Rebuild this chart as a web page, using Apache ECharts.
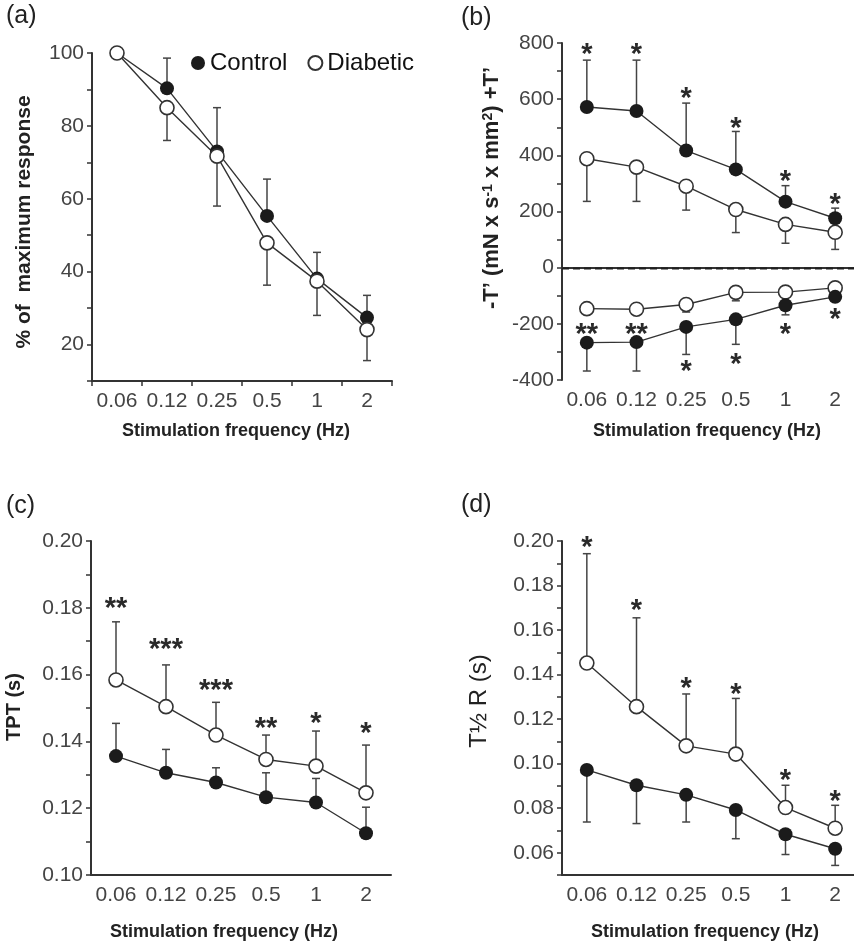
<!DOCTYPE html>
<html lang="en">
<head>
  <meta charset="UTF-8">
  <title>Stimulation frequency panels</title>
  <script src="https://cdn.jsdelivr.net/npm/echarts@6/dist/echarts.min.js"></script>
  <style>
    body { margin: 0; padding: 0; background: #fff; }
  </style>
</head>
<body>
  <div id="chart" style="width: 854px; height: 943px;"></div>
  <script>
    // categories shared by every panel
    var freqLabels = ['0.06', '0.12', '0.25', '0.5', '1', '2'];

    // (a) % of maximum response
    var aControl = [100, 90.3, 73, 55.3, 38.1, 27.4];
    var aControlErr = [null, 98.6, 85, 65.4, 45.3, 33.5];
    var aDiabetic = [100, 85, 71.7, 47.9, 37.4, 24.1];
    var aDiabeticErr = [null, 76, 58, 36.3, 28, 15.6];

    // (b) -T' / +T'
    var bControlPos = [572, 558, 417, 350, 235, 176];
    var bControlPosErr = [739, 739, 586, 485, 292, 212];
    var bDiabeticPos = [388, 358, 290, 207, 154, 126];
    var bDiabeticPosErr = [236, 236, 205, 125, 87, 65];
    var bDiabeticNeg = [-146, -148, -131, -88, -87, -72];
    var bDiabeticNegErr = [-166, -165, -158, -118, -100, -80];
    var bControlNeg = [-267, -265, -211, -184, -134, -104];
    var bControlNegErr = [-368, -368, -309, -273, -168, -115];
    var bStarsPos = ['*', '*', '*', '*', '*', '*'];
    var bStarsPosY = [778, 778, 623, 514, 327, 243];
    var bStarsNeg = ['**', '**', '*', '*', '*', '*'];
    var bStarsNegY = [-220, -220, -350, -324, -220, -166];
    var bZeroLine = 0;

    // (c) TPT (s)
    var cControl = [0.1356, 0.1306, 0.1277, 0.1233, 0.1217, 0.1125];
    var cControlErr = [0.1454, 0.1376, 0.1321, 0.1306, 0.1289, 0.1203];
    var cDiabetic = [0.1584, 0.1504, 0.1419, 0.1346, 0.1326, 0.1246];
    var cDiabeticErr = [0.1758, 0.1629, 0.1517, 0.1419, 0.1431, 0.1389];
    var cStars = ['**', '***', '***', '**', '*', '*'];
    var cStarsY = [0.1813, 0.1692, 0.1569, 0.1454, 0.1469, 0.1439];

    // (d) T1/2 R (s)
    var dControl = [0.0972, 0.0903, 0.0860, 0.0792, 0.0683, 0.0618];
    var dControlErr = [0.0738, 0.0731, 0.0738, 0.0663, 0.0592, 0.0543];
    var dDiabetic = [0.1452, 0.1256, 0.1080, 0.1043, 0.0803, 0.0710];
    var dDiabeticErr = [0.1943, 0.1655, 0.1313, 0.1293, 0.0903, 0.0813];
    var dStars = ['*', '*', '*', '*', '*', '*'];
    var dStarsY = [0.1996, 0.1713, 0.1361, 0.1335, 0.0950, 0.0855];

    var FONT = '"Liberation Sans", Arial, sans-serif';
    var INK = '#333';

    function xAxisOf(grid) {
      return {
        type: 'category', gridIndex: grid, data: freqLabels, position: 'bottom',
        axisLine: { lineStyle: { color: INK, width: 2 } },
        axisTick: { alignWithLabel: true, length: 5, lineStyle: { color: INK, width: 1.5 } },
        axisLabel: { interval: 0, margin: 10, fontSize: 21, color: '#444', fontFamily: FONT },
        splitLine: { show: false }
      };
    }

    function yAxisOf(grid, min, max, interval, fmt) {
      return {
        type: 'value', gridIndex: grid, min: min, max: max, interval: interval,
        axisLine: { show: true, lineStyle: { color: INK, width: 2 } },
        axisTick: { show: true, length: 5, lineStyle: { color: INK, width: 1.5 } },
        axisLabel: { margin: 8, fontSize: 21, color: '#444', fontFamily: FONT, formatter: fmt },
        splitLine: { show: false }
      };
    }

    function evenHundredth(v) {
      var k = Math.round(v * 100);
      return k % 2 === 0 ? (k / 100).toFixed(2) : '';
    }

    function lineSeries(name, xi, yi, data, filled) {
      return {
        name: name, type: 'line', xAxisIndex: xi, yAxisIndex: yi, data: data,
        symbol: 'circle', symbolSize: 14, z: 3,
        lineStyle: { color: INK, width: 1.4 },
        itemStyle: filled ? { color: '#1b1b1b' } : { color: '#fff', borderColor: INK, borderWidth: 1.6 },
        emphasis: { disabled: true }
      };
    }

    function errSeries(xi, yi, means, ends) {
      var data = [];
      means.forEach(function (m, i) {
        if (ends[i] != null) data.push([i, m, ends[i]]);
      });
      return {
        type: 'custom', xAxisIndex: xi, yAxisIndex: yi, z: 2, silent: true,
        data: data,
        renderItem: function (params, api) {
          var p0 = api.coord([api.value(0), api.value(1)]);
          var p1 = api.coord([api.value(0), api.value(2)]);
          var st = { stroke: '#444', lineWidth: 1.5 };
          return {
            type: 'group', children: [
              { type: 'line', shape: { x1: p0[0], y1: p0[1], x2: p1[0], y2: p1[1] }, style: st },
              { type: 'line', shape: { x1: p1[0] - 4, y1: p1[1], x2: p1[0] + 4, y2: p1[1] }, style: st }
            ]
          };
        }
      };
    }

    function starSeries(xi, yi, texts, ys) {
      return {
        type: 'custom', xAxisIndex: xi, yAxisIndex: yi, z: 4, silent: true,
        data: ys.map(function (y, i) { return [i, y]; }),
        renderItem: function (params, api) {
          var p = api.coord([api.value(0), api.value(1)]);
          return {
            type: 'text', x: p[0], y: p[1] + 6,
            style: {
              text: texts[params.dataIndex], fill: '#2a2a2a',
              fontSize: 29, fontWeight: 'bold', fontFamily: FONT,
              align: 'center', verticalAlign: 'middle'
            }
          };
        }
      };
    }

    // dashed reference line across the whole plot area of panel (b)
    function zeroLineSeries(xi, yi, value) {
      return {
        type: 'custom', xAxisIndex: xi, yAxisIndex: yi, z: 1, silent: true,
        data: [[0, value]],
        renderItem: function (params, api) {
          var cs = params.coordSys;
          var y = Math.round(api.coord([0, api.value(1)])[1]) + 0.5;
          return {
            type: 'line',
            shape: { x1: cs.x, y1: y, x2: cs.x + cs.width, y2: y },
            style: { stroke: '#1e1e1e', lineWidth: 2, lineDash: [7, 4], fill: null }
          };
        }
      };
    }

    function label(text, left, top) {
      return { type: 'text', left: left, top: top, style: { text: text, fontSize: 25, fontFamily: FONT, fill: '#222' } };
    }

    function xTitle(x, y) {
      return {
        type: 'text', x: x, y: y,
        style: { text: 'Stimulation frequency (Hz)', fontSize: 18, fontWeight: 'bold', fontFamily: FONT, fill: '#222', align: 'center', verticalAlign: 'middle' }
      };
    }

    function yTitle(x, y, style) {
      return { type: 'text', x: x, y: y, rotation: Math.PI / 2, style: style };
    }

    var chart = echarts.init(document.getElementById('chart'));

    var option = {
      animation: false,
      backgroundColor: '#fff',
      grid: [
        { left: 92, top: 53, width: 300, height: 328, outerBoundsMode: 'none' },
        { left: 562, top: 43, width: 298, height: 337, outerBoundsMode: 'none' },
        { left: 91, top: 541, width: 300, height: 334, outerBoundsMode: 'none' },
        { left: 562, top: 541, width: 298, height: 334, outerBoundsMode: 'none' }
      ],
      legend: {
        data: ['Control', 'Diabetic'], left: 186, top: 46, icon: 'circle',
        itemWidth: 14, itemHeight: 14, itemGap: 20, selectedMode: false,
        textStyle: { fontSize: 24, color: '#111', fontFamily: FONT }
      },
      xAxis: [
        xAxisOf(0),
        // boundary ticks between categories in panel (a)
        {
          type: 'category', gridIndex: 0, data: freqLabels, position: 'bottom',
          axisLine: { show: false }, axisLabel: { show: false },
          axisTick: { show: true, length: 5, lineStyle: { color: INK, width: 1.5 } }
        },
        xAxisOf(1),
        xAxisOf(2),
        xAxisOf(3)
      ],
      yAxis: [
        yAxisOf(0, 10, 100, 10, function (v) { return v % 20 === 0 ? v : ''; }),
        yAxisOf(1, -400, 800, 100, function (v) { return v % 200 === 0 ? v : ''; }),
        yAxisOf(2, 0.10, 0.20, 0.01, evenHundredth),
        yAxisOf(3, 0.05, 0.20, 0.01, evenHundredth)
      ],
      series: [
        errSeries(0, 0, aControl, aControlErr),
        errSeries(0, 0, aDiabetic, aDiabeticErr),
        lineSeries('Control', 0, 0, aControl, true),
        lineSeries('Diabetic', 0, 0, aDiabetic, false),

        zeroLineSeries(2, 1, bZeroLine),
        errSeries(2, 1, bControlPos, bControlPosErr),
        errSeries(2, 1, bDiabeticPos, bDiabeticPosErr),
        errSeries(2, 1, bDiabeticNeg, bDiabeticNegErr),
        errSeries(2, 1, bControlNeg, bControlNegErr),
        lineSeries('Control', 2, 1, bControlPos, true),
        lineSeries('Diabetic', 2, 1, bDiabeticPos, false),
        lineSeries('Diabetic', 2, 1, bDiabeticNeg, false),
        lineSeries('Control', 2, 1, bControlNeg, true),
        starSeries(2, 1, bStarsPos, bStarsPosY),
        starSeries(2, 1, bStarsNeg, bStarsNegY),

        errSeries(3, 2, cControl, cControlErr),
        errSeries(3, 2, cDiabetic, cDiabeticErr),
        lineSeries('Control', 3, 2, cControl, true),
        lineSeries('Diabetic', 3, 2, cDiabetic, false),
        starSeries(3, 2, cStars, cStarsY),

        errSeries(4, 3, dControl, dControlErr),
        errSeries(4, 3, dDiabetic, dDiabeticErr),
        lineSeries('Control', 4, 3, dControl, true),
        lineSeries('Diabetic', 4, 3, dDiabetic, false),
        starSeries(4, 3, dStars, dStarsY)
      ],
      graphic: [
        label('(a)', 6, 4),
        label('(b)', 461, 6),
        label('(c)', 6, 494),
        label('(d)', 461, 493),
        xTitle(236, 431),
        xTitle(707, 431),
        xTitle(224, 932),
        xTitle(705, 932),
        yTitle(24, 222, {
          text: '% of  maximum response', fontSize: 21, fontWeight: 'bold', fontFamily: FONT,
          fill: '#222', align: 'center', verticalAlign: 'middle'
        }),
        yTitle(492, 188, {
          text: '{b|-T’ (mN x s}{s|-1}{b| x mm}{s|2}{b|) +T’}',
          align: 'center', verticalAlign: 'middle',
          rich: {
            b: { fontSize: 22, fontWeight: 'bold', fontFamily: FONT, fill: '#222', verticalAlign: 'bottom' },
            s: { fontSize: 14, fontWeight: 'bold', fontFamily: FONT, fill: '#222', verticalAlign: 'top' }
          }
        }),
        yTitle(14, 707, {
          text: 'TPT (s)', fontSize: 20, fontWeight: 'bold', fontFamily: FONT,
          fill: '#222', align: 'center', verticalAlign: 'middle'
        }),
        yTitle(479, 701, {
          text: 'T½ R (s)', fontSize: 24, fontFamily: FONT,
          fill: '#222', align: 'center', verticalAlign: 'middle'
        })
      ]
    };

    chart.setOption(option);
  </script>
</body>
</html>
